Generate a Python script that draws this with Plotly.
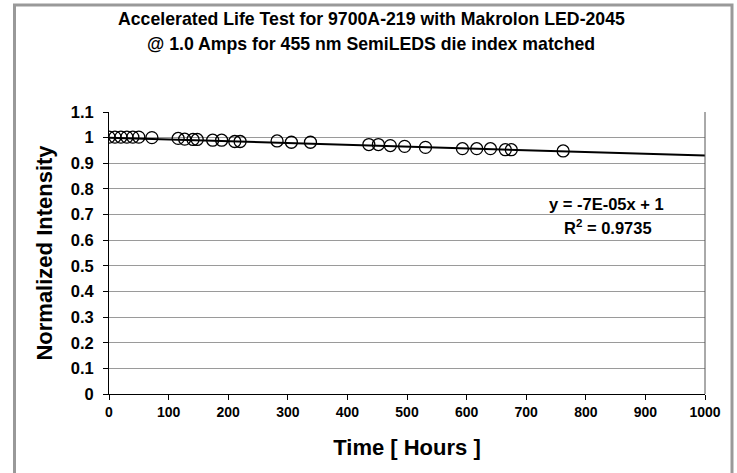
import plotly.graph_objects as go

# Elapsed test time (hours) and normalized light output
hours = [0, 10, 20, 30, 40, 50, 72, 116, 127, 141, 148, 174, 189, 211, 220,
         282, 306, 338, 436, 452, 472, 496, 531, 593, 617, 640, 665, 675, 762]
intensity = [1.002, 1.002, 1.002, 1.002, 1.002, 1.002, 1.0, 0.997, 0.994, 0.993, 0.993,
             0.99, 0.99, 0.985, 0.985, 0.987, 0.982, 0.982, 0.973, 0.973,
             0.969, 0.966, 0.962, 0.957, 0.957, 0.957, 0.953, 0.953, 0.948]

# Linear trendline as reported on the chart
slope = -7e-05
intercept = 1.0
r_squared = 0.9735
trend_x = [0, 1000]
trend_y = [intercept + slope * x for x in trend_x]

x_ticks = list(range(0, 1001, 100))
y_ticks = [round(0.1 * i, 1) for i in range(0, 12)]
y_tick_text = ["0" if v == 0 else ("1" if v == 1 else f"{v:g}") for v in y_ticks]

W, H = 737, 473
ML, MR, MT, MB = 109, 32, 112, 79
PW, PH = W - ML - MR, H - MT - MB


def px_x(p):
    return (p - ML) / PW


def px_y(p):
    return (H - MB - p) / PH


FONT = "Liberation Sans, Arial, sans-serif"

fig = go.Figure()

fig.add_trace(go.Scatter(
    x=trend_x, y=trend_y, mode="lines",
    line=dict(color="black", width=2), hoverinfo="skip", showlegend=False,
))
fig.add_trace(go.Scatter(
    x=hours, y=intensity, mode="markers",
    marker=dict(symbol="circle-open", size=12, color="black",
                line=dict(color="black", width=1.3)),
    showlegend=False,
))

fig.update_xaxes(
    range=[0, 1000], tickvals=x_ticks, ticktext=[str(t) for t in x_ticks],
    showgrid=False, zeroline=False, showline=True, linecolor="black", linewidth=1,
    ticks="outside", ticklen=5, tickcolor="black",
    tickfont=dict(family=FONT, size=14, color="black", weight="bold"),
    title=dict(text="Time [ Hours ]", standoff=20,
               font=dict(family=FONT, size=22, color="black", weight="bold")),
)
fig.update_yaxes(
    range=[0, 1.1], tickvals=y_ticks, ticktext=y_tick_text,
    showgrid=True, gridcolor="#9a9a9a", gridwidth=1, zeroline=False,
    showline=True, linecolor="black", linewidth=1,
    ticks="outside", ticklen=5, tickcolor="black", ticklabelstandoff=6,
    tickfont=dict(family=FONT, size=16.5, color="black", weight="bold"),
    title=dict(text="Normalized Intensity", standoff=12,
               font=dict(family=FONT, size=22, color="black", weight="bold")),
)

shapes = [
    # right edge of plot area
    dict(type="line", xref="paper", yref="paper", x0=1, x1=1, y0=0, y1=1,
         line=dict(color="#555555", width=1)),
    # outer chart frame
    dict(type="rect", xref="paper", yref="paper",
         x0=px_x(14.5), x1=px_x(732), y0=px_y(480), y1=px_y(5),
         line=dict(color="#999999", width=3), fillcolor="rgba(0,0,0,0)"),
]

annotations = [
    dict(text="Accelerated Life Test for 9700A-219 with Makrolon LED-2045",
         xref="paper", yref="paper", x=px_x(371), y=px_y(19),
         showarrow=False, xanchor="center", yanchor="middle",
         font=dict(family=FONT, size=17.7, color="black", weight="bold")),
    dict(text="@ 1.0 Amps for 455 nm SemiLEDS die index matched",
         xref="paper", yref="paper", x=px_x(371), y=px_y(44),
         showarrow=False, xanchor="center", yanchor="middle",
         font=dict(family=FONT, size=17.7, color="black", weight="bold")),
    dict(text=f"y = {slope:.0E}x + {intercept:g}",
         xref="paper", yref="paper", x=px_x(606), y=px_y(204),
         showarrow=False, xanchor="center", yanchor="middle",
         font=dict(family=FONT, size=16.5, color="black", weight="bold")),
    dict(text=f"R<sup>2</sup> = {r_squared:.4f}",
         xref="paper", yref="paper", x=px_x(608), y=px_y(227),
         showarrow=False, xanchor="center", yanchor="middle",
         font=dict(family=FONT, size=16.5, color="black", weight="bold")),
]

fig.update_layout(
    width=W, height=H,
    margin=dict(l=ML, r=MR, t=MT, b=MB),
    paper_bgcolor="white", plot_bgcolor="white",
    shapes=shapes, annotations=annotations,
    showlegend=False,
)

fig.write_html("out.html")
